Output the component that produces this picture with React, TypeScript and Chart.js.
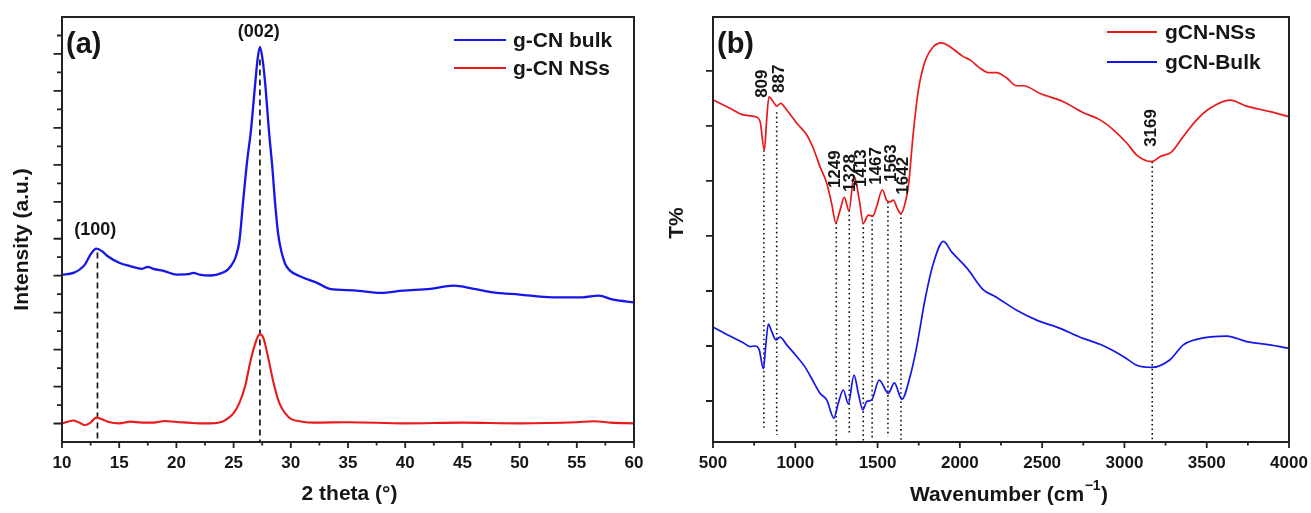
import React, { useEffect, useRef } from 'react';
import { Chart, registerables } from 'chart.js';
Chart.register(...registerables);

const FONT = '"Liberation Sans", Arial, Helvetica, sans-serif';
const BLUE = '#1616e8';
const RED = '#ea1a1a';
const INK = '#161616';

// ---------- (a) XRD ----------
const xrdBulkTheta = [10, 11, 12, 12.5, 13, 13.5, 14, 15, 16, 17, 17.5, 18, 19, 20, 21, 21.5, 22, 23, 24, 24.5, 25, 25.2, 25.5, 25.85, 26.2, 26.5, 26.9, 27.1, 27.3, 27.5, 27.75, 28.1, 28.4, 28.6, 28.9, 29.2, 29.5, 29.9, 30.8, 32.3, 33.4, 35.5, 37.9, 39.8, 42.2, 44.2, 46, 47.7, 50, 52.9, 55.5, 56.9, 58.2, 60];
const xrdBulk = [906, 915, 960, 1015, 1046, 1033, 1005, 970, 951, 937, 948, 937, 924, 906, 908, 915, 906, 901, 915, 933, 975, 1005, 1085, 1313, 1530, 1677, 1948, 2073, 2138, 2084, 1948, 1677, 1476, 1313, 1123, 1025, 965, 929, 897, 861, 829, 821, 807, 819, 829, 846, 829, 810, 798, 783, 783, 792, 770, 756];
const xrdNSsTheta = [10, 11, 11.5, 12, 12.5, 13, 13.5, 14, 15, 16, 17, 18, 19, 20, 21, 22, 23, 24, 24.5, 25, 25.5, 26, 26.5, 27, 27.3, 27.6, 28, 28.5, 29, 29.5, 30, 31, 32, 35, 40, 45, 50, 55, 56.5, 58, 60];
const xrdNSs = [101, 116, 105, 92, 105, 132, 123, 110, 101, 110, 105, 105, 114, 108, 105, 101, 101, 110, 128, 156, 210, 300, 445, 553, 584, 563, 463, 318, 210, 156, 125, 110, 105, 107, 101, 105, 101, 107, 112, 105, 101];
const xrdMarks = [13.1, 27.3];
const xrdMarkTop = [1025, 2070];
const xrdPeakLabels = ['(100)', '(002)'];
const xrdPeakLabelX = [12.9, 27.2];
const xrdPeakLabelY = [1145, 2219];
const xrdLegend = ['g-CN bulk', 'g-CN NSs'];

// ---------- (b) FTIR ----------
const ftirNSsWave = [502, 603, 684, 755, 786, 812, 826, 840, 866, 887, 911, 948, 1009, 1069, 1110, 1150, 1191, 1221, 1246, 1272, 1298, 1326, 1357, 1389, 1413, 1444, 1470, 1494, 1529, 1555, 1575, 1596, 1620, 1641, 1667, 1687, 1717, 1748, 1788, 1839, 1890, 1940, 2021, 2062, 2122, 2173, 2224, 2285, 2345, 2386, 2487, 2629, 2750, 2852, 2933, 3014, 3075, 3166, 3216, 3287, 3358, 3439, 3520, 3641, 3743, 3885, 3997];
const ftirNSs = [54.7, 53.2, 52.0, 51.7, 50.8, 45.6, 51.1, 55.3, 54.4, 53.6, 54.1, 52.9, 50.5, 48.4, 45.9, 42.6, 39.6, 35.9, 32.4, 34.7, 37.0, 34.6, 40.9, 36.5, 32.3, 33.8, 33.6, 35.3, 38.4, 36.5, 36.2, 36.5, 35.0, 34.0, 35.9, 39.0, 48.7, 56.5, 61.7, 64.4, 65.1, 64.4, 62.6, 62.0, 60.5, 59.7, 59.7, 58.7, 57.3, 57.3, 55.9, 54.4, 52.4, 51.1, 49.3, 46.9, 44.7, 43.5, 44.4, 45.3, 48.1, 51.1, 53.2, 54.7, 53.6, 52.6, 51.7];
const ftirBulkWave = [502, 603, 684, 725, 755, 781, 806, 820, 836, 857, 883, 907, 948, 1009, 1059, 1110, 1150, 1191, 1235, 1261, 1292, 1322, 1357, 1383, 1410, 1434, 1464, 1510, 1565, 1602, 1647, 1697, 1738, 1788, 1839, 1900, 1950, 2042, 2143, 2214, 2345, 2467, 2609, 2730, 2852, 2993, 3075, 3166, 3277, 3358, 3439, 3622, 3743, 3885, 3997];
const ftirBulk = [13.4, 11.8, 10.6, 9.9, 10.0, 9.3, 5.9, 9.9, 14.0, 12.6, 11.1, 11.6, 10.2, 8.1, 6.2, 3.5, 1.4, 0.2, -3.1, -0.4, 2.0, -0.5, 4.7, 1.4, -1.6, -0.1, 0.2, 3.8, 1.4, 3.3, 0.3, 4.4, 9.9, 18.4, 25.0, 29.0, 27.1, 24.2, 20.2, 19.0, 16.5, 14.7, 13.2, 11.6, 10.3, 8.1, 6.5, 6.1, 7.5, 10.2, 11.2, 11.8, 10.8, 10.2, 9.6];
const ftirMarks = [809, 887, 1249, 1328, 1413, 1467, 1563, 1642, 3169];
const ftirMarkTop = [45.6, 52.5, 32.4, 34.7, 32.4, 33.8, 36.2, 34.2, 43.5];
const ftirMarkBottom = [-5.3, -6.2, -7.45, -5.8, -7.45, -7.1, -6.5, -7.45, -7.45];
const ftirLabelX = [796, 895, 1235, 1326, 1397, 1484, 1575, 1648, 3160];
const ftirLabelBase = [55.1, 56, 38.7, 38, 38.9, 39.3, 39.8, 37.5, 46.2];
const ftirLegend = ['gCN-NSs', 'gCN-Bulk'];

function pts(xs: number[], ys: number[]) {
  return xs.map((x, i) => ({ x, y: ys[i] }));
}

function font(size: number) {
  return `bold ${size}px ${FONT}`;
}

function drawFrame(chart: any, xt: { v: number; len: number }[], yt: { v: number; len: number }[]) {
  const { ctx, chartArea: a } = chart;
  const sx = chart.scales.x, sy = chart.scales.y;
  ctx.save();
  ctx.strokeStyle = '#222';
  ctx.lineWidth = 2;
  ctx.setLineDash([]);
  ctx.strokeRect(a.left, a.top, a.right - a.left, a.bottom - a.top);
  ctx.lineWidth = 1.8;
  ctx.beginPath();
  for (const t of xt) {
    const x = sx.getPixelForValue(t.v);
    ctx.moveTo(x, a.bottom);
    ctx.lineTo(x, a.bottom + t.len);
  }
  for (const t of yt) {
    const y = sy.getPixelForValue(t.v);
    ctx.moveTo(a.left, y);
    ctx.lineTo(a.left - t.len, y);
  }
  ctx.stroke();
  ctx.restore();
}

function drawLegend(ctx: any, x0: number, x1: number, tx: number, ys: number[], labels: string[], colors: string[], size: number) {
  ctx.save();
  labels.forEach((l, i) => {
    ctx.strokeStyle = colors[i];
    ctx.lineWidth = 2;
    ctx.beginPath();
    ctx.moveTo(x0, ys[i]);
    ctx.lineTo(x1, ys[i]);
    ctx.stroke();
    ctx.fillStyle = INK;
    ctx.font = font(size);
    ctx.textAlign = 'left';
    ctx.textBaseline = 'middle';
    ctx.fillText(l, tx, ys[i] + 1);
  });
  ctx.restore();
}

const xrdPlugin = {
  id: 'xrdDecor',
  beforeDatasetsDraw(chart: any) {
    const { ctx, chartArea: a } = chart;
    const sx = chart.scales.x, sy = chart.scales.y;
    ctx.save();
    ctx.strokeStyle = INK;
    ctx.lineWidth = 1.7;
    ctx.setLineDash([6, 4]);
    xrdMarks.forEach((t, i) => {
      const x = sx.getPixelForValue(t);
      ctx.beginPath();
      ctx.moveTo(x, sy.getPixelForValue(xrdMarkTop[i]));
      ctx.lineTo(x, a.bottom);
      ctx.stroke();
    });
    ctx.restore();
  },
  afterDraw(chart: any) {
    const { ctx } = chart;
    const sx = chart.scales.x, sy = chart.scales.y;
    const xt: { v: number; len: number }[] = [];
    for (let v = 10; v <= 60; v += 2.5) xt.push({ v, len: v % 5 === 0 ? 6 : 3.5 });
    const yt: { v: number; len: number }[] = [];
    for (let v = 100; v <= 2200; v += 100) yt.push({ v, len: (v / 100) % 2 === 1 ? 8.5 : 5 });
    drawFrame(chart, xt, yt);
    ctx.save();
    ctx.fillStyle = INK;
    ctx.textAlign = 'center';
    ctx.textBaseline = 'middle';
    ctx.font = font(18);
    xrdPeakLabels.forEach((l, i) => {
      ctx.fillText(l, sx.getPixelForValue(xrdPeakLabelX[i]), sy.getPixelForValue(xrdPeakLabelY[i]));
    });
    ctx.font = font(29);
    ctx.textAlign = 'left';
    ctx.fillText('(a)', 66, 45);
    ctx.font = font(21);
    ctx.textAlign = 'center';
    ctx.fillText('2 theta (°)', 349.5, 494);
    ctx.save();
    ctx.translate(22, 239.5);
    ctx.rotate(-Math.PI / 2);
    ctx.fillText('Intensity (a.u.)', 0, 0);
    ctx.restore();
    ctx.restore();
    drawLegend(ctx, 454, 506, 513, [40, 68], xrdLegend, [BLUE, RED], 21);
  },
};

const OFF = 655;
const ftirPlugin = {
  id: 'ftirDecor',
  beforeDatasetsDraw(chart: any) {
    const { ctx } = chart;
    const sx = chart.scales.x, sy = chart.scales.y;
    ctx.save();
    ctx.strokeStyle = INK;
    ctx.lineWidth = 1.6;
    ctx.setLineDash([1.6, 3]);
    ftirMarks.forEach((w, i) => {
      const x = sx.getPixelForValue(w);
      ctx.beginPath();
      ctx.moveTo(x, sy.getPixelForValue(ftirMarkTop[i]));
      ctx.lineTo(x, sy.getPixelForValue(ftirMarkBottom[i]));
      ctx.stroke();
    });
    ctx.restore();
  },
  afterDraw(chart: any) {
    const { ctx } = chart;
    const sx = chart.scales.x, sy = chart.scales.y;
    const xt: { v: number; len: number }[] = [];
    for (let v = 500; v <= 4000; v += 250) xt.push({ v, len: v % 500 === 0 ? 6 : 3.5 });
    const yt: { v: number; len: number }[] = [];
    for (let v = 0; v <= 60; v += 10) yt.push({ v, len: 7 });
    drawFrame(chart, xt, yt);
    ctx.save();
    ctx.fillStyle = INK;
    ctx.font = font(17);
    ctx.textAlign = 'left';
    ctx.textBaseline = 'middle';
    ftirMarks.forEach((w, i) => {
      ctx.save();
      ctx.translate(sx.getPixelForValue(ftirLabelX[i]), sy.getPixelForValue(ftirLabelBase[i]));
      ctx.rotate(-Math.PI / 2);
      ctx.fillText(String(w), 0, 1);
      ctx.restore();
    });
    ctx.font = font(29);
    ctx.fillText('(b)', 717 - OFF, 45);
    // x title with superscript
    const main = 'Wavenumber (cm';
    const sup = '\u22121';
    ctx.font = font(21);
    const wMain = ctx.measureText(main).width;
    const wClose = ctx.measureText(')').width;
    ctx.font = font(14);
    const wSup = ctx.measureText(sup).width;
    const total = wMain + wSup + 1 + wClose;
    let x = 1009 - OFF - total / 2;
    const base = 501;
    ctx.textBaseline = 'alphabetic';
    ctx.font = font(21);
    ctx.fillText(main, x, base);
    x += wMain;
    ctx.font = font(14);
    ctx.fillText(sup, x + 0.5, base - 11);
    x += wSup + 1;
    ctx.font = font(21);
    ctx.fillText(')', x, base);
    ctx.textBaseline = 'middle';
    ctx.textAlign = 'center';
    ctx.save();
    ctx.translate(677 - OFF, 223);
    ctx.rotate(-Math.PI / 2);
    ctx.fillText('T%', 0, 0);
    ctx.restore();
    ctx.restore();
    drawLegend(ctx, 1107 - OFF, 1157 - OFF, 1165 - OFF, [32, 62], ftirLegend, [RED, BLUE], 21);
  },
};

function tickFont() {
  return { family: FONT, size: 17, weight: 'bold' as const };
}

const plainLabel = (v: any) => String(v);
const fixX = (s: any) => { s.height = 71; s.paddingLeft = 0; s.paddingRight = 0; };

export default function App() {
  const leftRef = useRef<HTMLCanvasElement>(null);
  const rightRef = useRef<HTMLCanvasElement>(null);

  useEffect(() => {
    const left = new Chart(leftRef.current as HTMLCanvasElement, {
      type: 'line',
      data: {
        datasets: [
          { label: xrdLegend[0], data: pts(xrdBulkTheta, xrdBulk), borderColor: BLUE, borderWidth: 2.3, pointRadius: 0, cubicInterpolationMode: 'monotone', fill: false },
          { label: xrdLegend[1], data: pts(xrdNSsTheta, xrdNSs), borderColor: RED, borderWidth: 2.1, pointRadius: 0, cubicInterpolationMode: 'monotone', fill: false },
        ],
      },
      options: {
        responsive: false,
        animation: false,
        events: [],
        layout: { padding: { top: 17, right: 21, left: 0, bottom: 0 } },
        plugins: { legend: { display: false }, tooltip: { enabled: false }, title: { display: false } },
        scales: {
          x: {
            type: 'linear', min: 10, max: 60,
            grid: { display: false, drawTicks: false, tickLength: 0 },
            border: { display: false },
            ticks: { stepSize: 5, font: tickFont(), color: INK, padding: 11, maxRotation: 0, callback: plainLabel },
            afterFit: fixX,
          },
          y: {
            type: 'linear', min: 0, max: 2300,
            grid: { display: false, drawTicks: false, tickLength: 0 },
            border: { display: false },
            ticks: { display: false, stepSize: 100 },
            afterFit: (s: any) => { s.width = 62; s.paddingTop = 0; s.paddingBottom = 0; },
          },
        },
      },
      plugins: [xrdPlugin],
    } as any);

    const right = new Chart(rightRef.current as HTMLCanvasElement, {
      type: 'line',
      data: {
        datasets: [
          { label: ftirLegend[0], data: pts(ftirNSsWave, ftirNSs), borderColor: RED, borderWidth: 1.7, pointRadius: 0, cubicInterpolationMode: 'monotone', fill: false },
          { label: ftirLegend[1], data: pts(ftirBulkWave, ftirBulk), borderColor: BLUE, borderWidth: 1.7, pointRadius: 0, cubicInterpolationMode: 'monotone', fill: false },
        ],
      },
      options: {
        responsive: false,
        animation: false,
        events: [],
        layout: { padding: { top: 17, right: 22, left: 0, bottom: 0 } },
        plugins: { legend: { display: false }, tooltip: { enabled: false }, title: { display: false } },
        scales: {
          x: {
            type: 'linear', min: 500, max: 4000,
            grid: { display: false, drawTicks: false, tickLength: 0 },
            border: { display: false },
            ticks: { stepSize: 500, font: tickFont(), color: INK, padding: 11, maxRotation: 0, callback: plainLabel },
            afterFit: fixX,
          },
          y: {
            type: 'linear', min: -7.45, max: 69.8,
            grid: { display: false, drawTicks: false, tickLength: 0 },
            border: { display: false },
            ticks: { display: false, stepSize: 10 },
            afterFit: (s: any) => { s.width = 58; s.paddingTop = 0; s.paddingBottom = 0; },
          },
        },
      },
      plugins: [ftirPlugin],
    } as any);

    return () => {
      left.destroy();
      right.destroy();
    };
  }, []);

  return (
    <div style={{ position: 'fixed', left: 0, top: 0, width: 1311, height: 513, background: '#fff' }}>
      <canvas ref={leftRef} width={655} height={513} style={{ position: 'absolute', left: 0, top: 0, width: 655, height: 513 }} />
      <canvas ref={rightRef} width={656} height={513} style={{ position: 'absolute', left: 655, top: 0, width: 656, height: 513 }} />
    </div>
  );
}
